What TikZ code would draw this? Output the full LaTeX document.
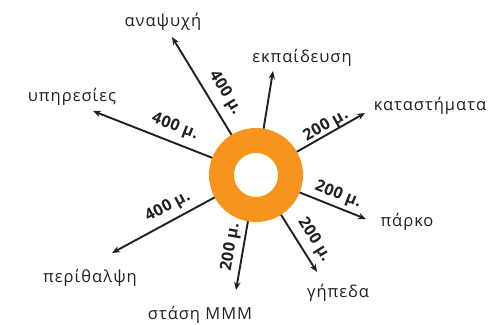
\documentclass[tikz,border=0pt]{standalone}
\usepackage{fontspec}
\setmainfont{Open Sans}
\usetikzlibrary{arrows.meta}
\definecolor{ringorange}{HTML}{F7941E}
\definecolor{ink}{HTML}{231F20}
\begin{document}
\begin{tikzpicture}[x=1pt,y=-1pt,
  place/.style={font=\fontsize{16.5}{19}\selectfont\addfontfeature{LetterSpace=6}, text=ink, anchor=base, inner sep=0pt},
  dist/.style={font=\bfseries\fontsize{16}{18}\selectfont\addfontfeature{LetterSpace=3}, text=ink, inner sep=0pt},
  spoke/.style={draw=ink, line width=1.9pt, -{Stealth[length=8pt,width=6.5pt]}}]
\useasboundingbox (0,0) rectangle (490,324);
\node[circle, draw=ringorange, line width=25pt, minimum size=69pt, inner sep=0pt] (ring) at (256,175) {};
% arrow tips
\coordinate (t1) at (172,37);
\coordinate (t2) at (273,71);
\coordinate (t3) at (365,113);
\coordinate (t4) at (366,219);
\coordinate (t5) at (317,272);
\coordinate (t6) at (236,290);
\coordinate (t7) at (112,253);
\coordinate (t8) at (93,111);
\foreach \t in {t1,t2,t3,t4,t5,t6,t7,t8} \draw[spoke] (ring) -- (\t);
% place names
\node[place] (n1) at (163,26) {αναψυχή};
\node[place] (n2) at (302,62) {εκπαίδευση};
\node[place] (n3) at (430,110) {καταστήματα};
\node[place] (n4) at (407,226) {πάρκο};
\node[place] (n5) at (338,297) {γήπεδα};
\node[place] (n6) at (200,319) {στάση ΜΜΜ};
\node[place] (n7) at (90,282) {περίθαλψη};
\node[place] (n8) at (72,101) {υπηρεσίες};
% distances
\node[dist, rotate=-58.7] (d1) at (225,93) {400 μ.};
\node[dist, rotate=29.6] (d3) at (326,126) {200 μ.};
\node[dist, rotate=-21.8] (d4) at (338,195) {200 μ.};
\node[dist, rotate=-57.8] (d5) at (314,240) {200 μ.};
\node[dist, rotate=80.1] (d6) at (231,247) {200 μ.};
\node[dist, rotate=28.4] (d7) at (168,207) {400 μ.};
\node[dist, rotate=-21.4] (d8) at (175,127) {400 μ.};
\end{tikzpicture}
\end{document}
